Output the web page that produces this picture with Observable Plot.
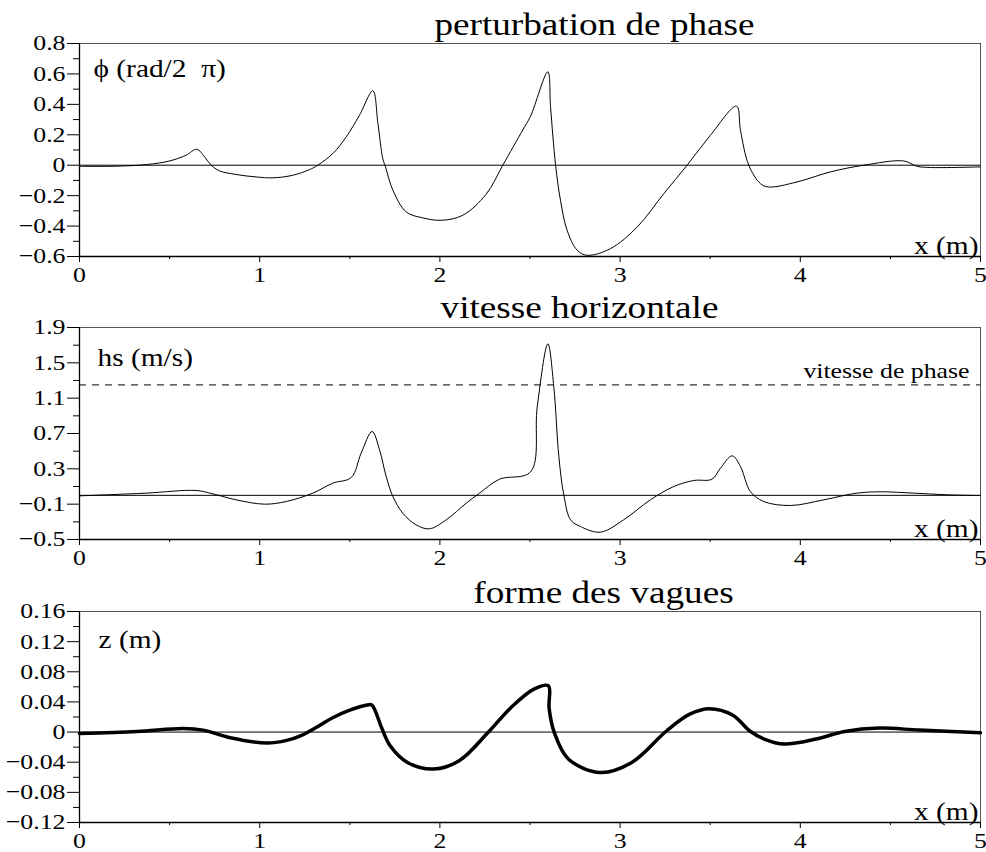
<!DOCTYPE html>
<html><head><meta charset="utf-8">
<script src="https://cdn.jsdelivr.net/npm/d3@7"></script>
<script src="https://cdn.jsdelivr.net/npm/@observablehq/plot@0.6"></script>
<style>
body{margin:0;background:#fff}
#c{width:986px;height:852px}
#c svg{display:block}
</style>
</head><body><div id="c"></div>
<script>
// ---- data ----
const phiX = [0,0.185,0.37,0.5,0.592,0.651,0.694,0.731,0.777,0.869,0.98,1.073,1.184,1.276,1.322,1.406,1.48,1.554,1.628,1.656,1.683,1.698,1.739,1.813,1.905,2.007,2.127,2.257,2.349,2.46,2.503,2.599,2.614,2.642,2.669,2.706,2.762,2.817,2.947,3.095,3.243,3.372,3.501,3.646,3.668,3.714,3.779,3.825,3.982,4.167,4.352,4.574,4.648,4.722,5];
const phiV = [-0.007,-0.007,0.004,0.028,0.066,0.105,0.055,0,-0.037,-0.061,-0.077,-0.083,-0.066,-0.029,0,0.077,0.186,0.329,0.489,0.274,0.044,-0.011,-0.164,-0.307,-0.346,-0.362,-0.329,-0.19,0,0.232,0.322,0.614,0.384,0,-0.23,-0.428,-0.559,-0.592,-0.548,-0.406,-0.186,0,0.197,0.388,0.23,0,-0.121,-0.143,-0.11,-0.044,0,0.028,-0.007,-0.015,-0.011];

const hsX = [0,0.37,0.647,0.74,0.869,1.027,1.147,1.295,1.406,1.508,1.563,1.624,1.665,1.702,1.739,1.794,1.868,1.942,2.035,2.146,2.22,2.331,2.503,2.54,2.599,2.632,2.66,2.688,2.725,2.78,2.891,3.02,3.168,3.298,3.409,3.51,3.557,3.622,3.668,3.723,3.797,3.945,4.13,4.315,4.444,4.629,4.814,5];
const hsV = [-0.006,0.025,0.055,0.017,-0.051,-0.1,-0.07,0.025,0.138,0.202,0.478,0.723,0.515,0.213,-0.013,-0.202,-0.334,-0.379,-0.277,-0.089,0.025,0.183,0.265,1.0,1.715,1.23,0.44,0,-0.277,-0.353,-0.417,-0.277,-0.051,0.1,0.168,0.183,0.308,0.447,0.326,0.043,-0.07,-0.115,-0.051,0.025,0.04,0.025,0.006,-0.002];
const phaseSpeed = [1.25];

const zX = [0,0.319,0.575,0.686,0.83,1.04,1.15,1.226,1.33,1.405,1.5,1.596,1.622,1.676,1.724,1.82,1.964,2.107,2.267,2.395,2.522,2.602,2.606,2.634,2.714,2.89,3.065,3.257,3.384,3.496,3.624,3.72,3.8,3.911,4.087,4.246,4.438,4.662,5];
const zV = [-0.0019,0.0008,0.0048,0.0026,-0.0071,-0.0145,-0.011,-0.005,0.0085,0.019,0.029,0.0358,0.036,0.0061,-0.0182,-0.0403,-0.0491,-0.038,-0.0006,0.0327,0.057,0.0614,0.032,0,-0.036,-0.0536,-0.0403,0.0014,0.0235,0.031,0.0226,0.0014,-0.0093,-0.0159,-0.0093,0.0008,0.0053,0.0026,-0.0009];

const xMajor = [0,1,2,3,4,5];
const xMinor = [0.5,1.5,2.5,3.5,4.5];
const phiMajor = [-0.6,-0.4,-0.2,0,0.2,0.4,0.6,0.8];
const phiMinor = [-0.5,-0.3,-0.1,0.1,0.3,0.5,0.7];
const hsMajor = [-0.5,-0.1,0.3,0.7,1.1,1.5,1.9];
const hsMinor = [-0.3,0.1,0.5,0.9,1.3,1.7];
const zMajor = [-0.12,-0.08,-0.04,0,0.04,0.08,0.12,0.16];
const zMinor = [-0.1,-0.06,-0.02,0.02,0.06,0.10,0.14];

const titles = ["perturbation de phase","vitesse horizontale","forme des vagues"];
const yLabels = ["\u03d5 (rad/2  \u03c0)","hs (m/s)","z (m)"];
const xLabel = "x (m)";
const phaseLabel = "vitesse de phase";

const FONT = "Liberation Serif";
const STRETCH = 1.2; // the reference's lettering is horizontally wide
const fmt = d => d === 0 ? "0" : String(d).replace("-", "\u2212");

// widen each text horizontally about its own anchor point (y untouched)
function widen(svg) {
  svg.querySelectorAll("text").forEach(t => {
    const xs = t.getAttribute("x");
    const x = xs && /^-?[\d.]+$/.test(xs) ? +xs : 0;
    const tr = t.getAttribute("transform") || "";
    t.setAttribute("transform", `${tr} translate(${x},0) scale(${STRETCH},1) translate(${-x},0)`);
  });
  return svg;
}

function panel(o) {
  const data = o.xs.map((x, i) => ({x, v: o.vs[i]}));
  const [y0, y1] = o.yDomain;
  return widen(Plot.plot({
    width: 986, height: o.height,
    marginLeft: 79, marginRight: 6, marginTop: o.marginTop, marginBottom: o.marginBottom,
    style: {fontFamily: FONT, fontSize: "21px", background: "white", color: "black", overflow: "visible"},
    x: {domain: [0, 5]},
    y: {domain: o.yDomain},
    marks: [
      Plot.ruleY([y1], {stroke: "#555", strokeWidth: 1}),
      Plot.ruleX([5], {stroke: "#555", strokeWidth: 1}),
      Plot.ruleY([0], {stroke: "black", strokeWidth: 1}),
      ...(o.extra || []),
      Plot.line(data, {x: "x", y: "v", curve: "catmull-rom", stroke: "black", strokeWidth: o.sw}),
      Plot.ruleX([0], {stroke: "black", strokeWidth: 1.3}),
      Plot.ruleY([y0], {stroke: "black", strokeWidth: 1.3}),
      Plot.axisY({ticks: o.yMajor, tickSize: 12, tickPadding: 2, tickFormat: fmt, label: null, fontSize: 21.5, fontFamily: FONT}),
      Plot.axisY({ticks: o.yMinor, tickSize: 6, tickFormat: () => "", label: null}),
      Plot.axisX({ticks: xMajor, tickSize: 6, tickPadding: 4, tickFormat: fmt, label: null, fontSize: 21.5, fontFamily: FONT}),
      Plot.axisX({ticks: xMinor, tickSize: 3, tickFormat: () => "", label: null}),
      Plot.text([o.title], {frameAnchor: "top-left", dx: o.titleCx - 79, dy: o.titleDy, textAnchor: "middle", lineAnchor: "bottom", fontSize: 31, fontFamily: FONT}),
      Plot.text([o.ylabel], {frameAnchor: "top-left", dx: o.ylDx, dy: o.ylDy, textAnchor: "start", lineAnchor: "bottom", fontSize: 24.5, fontFamily: FONT}),
      Plot.text([xLabel], {frameAnchor: "bottom-right", dx: -2, dy: -3, textAnchor: "end", lineAnchor: "bottom", fontSize: 24.5, fontFamily: FONT})
    ]
  }));
}

const c = document.getElementById("c");
c.appendChild(panel({
  xs: phiX, vs: phiV, yDomain: [-0.6, 0.8], yMajor: phiMajor, yMinor: phiMinor,
  height: 286, marginTop: 43, marginBottom: 30, sw: 1,
  title: titles[0], titleCx: 594, titleDy: -9, ylabel: yLabels[0], ylDx: 14, ylDy: 33
}));
c.appendChild(panel({
  xs: hsX, vs: hsV, yDomain: [-0.5, 1.9], yMajor: hsMajor, yMinor: hsMinor,
  height: 285, marginTop: 41, marginBottom: 32, sw: 1,
  title: titles[1], titleCx: 579, titleDy: -10, ylabel: yLabels[1], ylDx: 18, ylDy: 38,
  extra: [
    Plot.ruleY(phaseSpeed, {stroke: "black", strokeWidth: 1, strokeDasharray: "7,6"}),
    Plot.text(phaseSpeed, {x: () => 5, y: d => d, text: () => phaseLabel, textAnchor: "end", lineAnchor: "bottom", dx: -11, dy: -7, fontSize: 21.5, fontFamily: FONT})
  ]
}));
c.appendChild(panel({
  xs: zX, vs: zV, yDomain: [-0.12, 0.16], yMajor: zMajor, yMinor: zMinor,
  height: 281, marginTop: 40, marginBottom: 30, sw: 3.5,
  title: titles[2], titleCx: 603, titleDy: -9, ylabel: yLabels[2], ylDx: 19, ylDy: 36
}));
</script></body></html>
